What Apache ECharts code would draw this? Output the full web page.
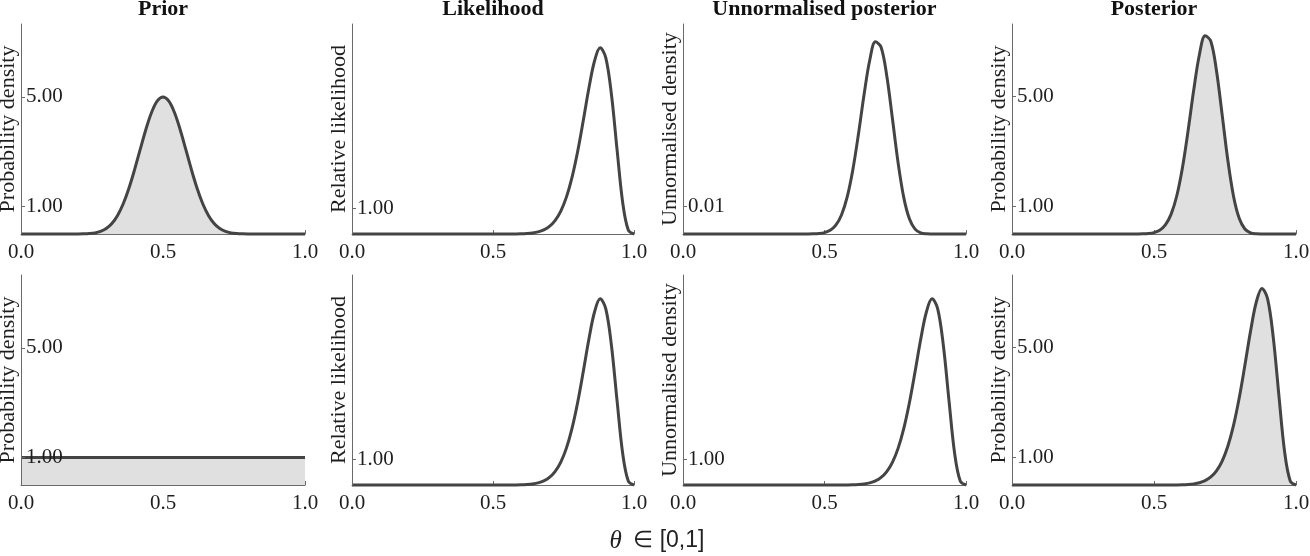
<!DOCTYPE html>
<html>
<head>
<meta charset="utf-8">
<script src="https://cdn.jsdelivr.net/npm/echarts@6/dist/echarts.min.js"></script>
<style>
html,body{margin:0;padding:0;background:#fff;}
#chart{width:1310px;height:556px;}
</style>
</head>
<body>
<div id="chart"></div>
<script>
// ---------- data ----------
const theta = [0.00,0.02,0.04,0.06,0.08,0.10,0.12,0.14,0.16,0.18,0.20,0.22,0.24,0.26,0.28,0.30,0.32,0.34,0.36,0.38,0.40,0.42,0.44,0.46,0.48,0.50,0.52,0.54,0.56,0.58,0.60,0.62,0.64,0.66,0.68,0.70,0.72,0.74,0.76,0.78,0.80,0.82,0.84,0.86,0.88,0.90,0.92,0.94,0.96,0.98,1.00];

const priorTop = [0,0,0,0,0,0,0,0,0,0,0.001,0.005,0.015,0.039,0.093,0.199,0.384,0.678,1.104,1.668,2.350,3.095,3.823,4.440,4.854,5.000,4.854,4.440,3.823,3.095,2.350,1.668,1.104,0.678,0.384,0.199,0.093,0.039,0.015,0.005,0.001,0,0,0,0,0,0,0,0,0,0];

const likelihood = [0,0,0,0,0,0,0,0,0,0,0,0,0,0,0,0,0,0,0,0,0,0,0,0,0,0.0001,0.0003,0.0007,0.0017,0.004,0.009,0.020,0.041,0.082,0.158,0.292,0.516,0.872,1.409,2.169,3.167,4.358,5.606,6.657,7.162,6.778,5.368,3.238,1.203,0.140,0];

const unnormTop = [0,0,0,0,0,0,0,0,0,0,0,0,0,0,0,0,0,0,0,0,0,0,0.00001,0.00005,0.00016,0.00049,0.00131,0.00315,0.00679,0.01314,0.02287,0.03571,0.04989,0.06214,0.06863,0.0667,0.05652,0.04123,0.0255,0.01308,0.00542,0.00175,0.00042,0.00007,0.00001,0,0,0,0,0,0];

const posteriorTop = [0,0,0,0,0,0,0,0,0,0,0,0,0,0,0,0,0,0,0,0,0.0001,0.0003,0.0014,0.005,0.017,0.052,0.138,0.332,0.714,1.384,2.407,3.759,5.252,6.541,7.224,7.021,5.949,4.340,2.684,1.377,0.570,0.184,0.044,0.007,0.0007,0,0,0,0,0,0];

const priorBottom = [1,1,1,1,1,1,1,1,1,1,1,1,1,1,1,1,1,1,1,1,1,1,1,1,1,1,1,1,1,1,1,1,1,1,1,1,1,1,1,1,1,1,1,1,1,1,1,1,1,1,1];
// with a flat prior the unnormalised posterior and posterior equal the likelihood curve
const unnormBottom = likelihood;
const posteriorBottom = likelihood;

const columnTitles = ['Prior', 'Likelihood', 'Unnormalised posterior', 'Posterior'];
const yNamesTop = ['Probability density', 'Relative likelihood', 'Unnormalised density', 'Probability density'];
const yNamesBottom = ['Probability density', 'Relative likelihood', 'Unnormalised density', 'Probability density'];
const yTicksTop = [[1, 5], [1], [0.01], [1, 5]];
const yTicksBottom = [[1, 5], [1], [1], [1, 5]];
const xTicks = [0, 0.5, 1];
const xLabel = ' ∈ [0,1]';

// ---------- layout ----------
const lefts = [21, 352, 683, 1012];
const widths = [284, 282, 283, 284];
const tops = [24, 275];
const H = 210;
const yMaxTop = [7.66, 8.08, 0.075, 7.65];
const yMaxBottom = [7.66, 8.08, 8.08, 7.65];
const filled = [true, false, false, true];

const seriesTop = [priorTop, likelihood, unnormTop, posteriorTop];
const seriesBottom = [priorBottom, likelihood, unnormBottom, posteriorBottom];

const serif = 'Liberation Serif, Times New Roman, serif';
const textColor = '#1e1e1e';
const axisColor = '#6a6a6a';

const grids = [], xAxes = [], yAxes = [], series = [];
function pairs(vals) { return theta.map((t, i) => [t, vals[i]]); }

for (let r = 0; r < 2; r++) {
  for (let c = 0; c < 4; c++) {
    const gi = r * 4 + c;
    grids.push({ left: lefts[c], top: tops[r], width: widths[c], height: H, outerBoundsMode: 'none', containLabel: false });
    xAxes.push({
      type: 'value', gridIndex: gi, min: 0, max: 1, interval: 0.5, z: 1,
      axisLine: { show: true, onZero: false, lineStyle: { color: axisColor, width: 1 } },
      axisTick: { show: true, inside: true, length: 4, customValues: xTicks, lineStyle: { color: axisColor } },
      axisLabel: { show: true, margin: 8, customValues: xTicks, formatter: v => v.toFixed(1), fontFamily: serif, fontSize: 21, color: textColor, hideOverlap: false },
      splitLine: { show: false }
    });
    const ticks = r === 0 ? yTicksTop[c] : yTicksBottom[c];
    yAxes.push({
      type: 'value', gridIndex: gi, min: 0, max: r === 0 ? yMaxTop[c] : yMaxBottom[c], z: 5,
      name: r === 0 ? yNamesTop[c] : yNamesBottom[c],
      nameLocation: 'middle', nameGap: 2, nameRotate: 90,
      nameTextStyle: { fontFamily: serif, fontSize: 22, color: textColor },
      axisLine: { show: true, lineStyle: { color: axisColor, width: 1 } },
      axisTick: { show: true, inside: true, length: 4, customValues: ticks, lineStyle: { color: axisColor } },
      axisLabel: { show: true, inside: true, margin: 5, customValues: ticks, formatter: v => v.toFixed(2), fontFamily: serif, fontSize: 21, color: textColor },
      splitLine: { show: false }
    });
    const vals = r === 0 ? seriesTop[c] : seriesBottom[c];
    const s = {
      type: 'line', xAxisIndex: gi, yAxisIndex: gi, data: pairs(vals),
      showSymbol: false, smooth: 0.35, clip: false, silent: true, animation: false,
      lineStyle: { color: '#444444', width: 3 }, z: 3
    };
    if (filled[c]) s.areaStyle = { color: '#e0e0e0', opacity: 1 };
    series.push(s);
  }
}

const graphics = columnTitles.map((t, c) => ({
  type: 'text', x: lefts[c] + widths[c] / 2, y: -2,
  style: { text: t, align: 'center', verticalAlign: 'top', fontFamily: serif, fontWeight: 'bold', fontSize: 22, fill: '#111' }
}));
graphics.push({
  type: 'text', x: 657, y: 541,
  style: {
    text: '{a|θ}{b|' + xLabel + '}', align: 'center', verticalAlign: 'middle',
    rich: {
      a: { fontFamily: serif, fontStyle: 'italic', fontSize: 25, fill: '#222', padding: [0, 5, 0, 0] },
      b: { fontFamily: 'Liberation Sans, Arial, sans-serif', fontSize: 23, fill: '#222' }
    }
  }
});

const chart = echarts.init(document.getElementById('chart'), null, { renderer: 'canvas' });
chart.setOption({
  backgroundColor: '#ffffff',
  animation: false,
  grid: grids, xAxis: xAxes, yAxis: yAxes, series: series,
  graphic: graphics
});
</script>
</body>
</html>
